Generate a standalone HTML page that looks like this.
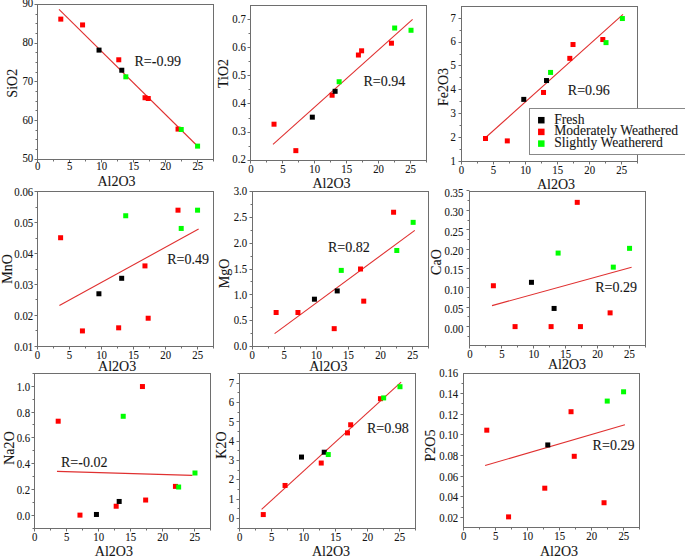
<!DOCTYPE html>
<html><head><meta charset="utf-8"><style>
html,body{margin:0;padding:0;background:#fff;}
body{width:685px;height:556px;overflow:hidden;}
svg{display:block;}
text{font-family:"Liberation Serif",serif;fill:#161616;stroke:#161616;stroke-width:0.1px;}
.t{font-size:12px;}
.a{font-size:14.8px;}
.r{font-size:14.5px;}
.l{font-size:14.2px;}
</style></head><body>
<svg width="685" height="556" viewBox="0 0 685 556">
<rect width="685" height="556" fill="#fff"/>
<rect x="37.5" y="4.5" width="176.0" height="155.0" fill="none" stroke="#6e6e6e" stroke-width="1"/>
<path d="M37.5 159.5v3 M53.5 159.5v2 M69.5 159.5v3 M85.5 159.5v2 M101.5 159.5v3 M117.5 159.5v2 M133.5 159.5v3 M149.5 159.5v2 M165.5 159.5v3 M181.5 159.5v2 M197.5 159.5v3 M213.5 159.5v2 M37.5 159.5h-3 M37.5 149.5h-2 M37.5 139.5h-2 M37.5 130.5h-2 M37.5 120.5h-3 M37.5 110.5h-2 M37.5 101.5h-2 M37.5 91.5h-2 M37.5 81.5h-3 M37.5 72.5h-2 M37.5 62.5h-2 M37.5 52.5h-2 M37.5 43.5h-3 M37.5 33.5h-2 M37.5 23.5h-2 M37.5 14.5h-2 M37.5 4.5h-3" stroke="#6e6e6e" stroke-width="1" fill="none"/>
<text transform="translate(37.60 169.60) scale(0.9 1)" class="t" text-anchor="middle">0</text>
<text transform="translate(69.64 169.60) scale(0.9 1)" class="t" text-anchor="middle">5</text>
<text transform="translate(101.67 169.60) scale(0.9 1)" class="t" text-anchor="middle">10</text>
<text transform="translate(133.71 169.60) scale(0.9 1)" class="t" text-anchor="middle">15</text>
<text transform="translate(165.75 169.60) scale(0.9 1)" class="t" text-anchor="middle">20</text>
<text transform="translate(197.78 169.60) scale(0.9 1)" class="t" text-anchor="middle">25</text>
<text transform="translate(33.20 162.30) scale(0.9 1)" class="t" text-anchor="end">50</text>
<text transform="translate(33.20 123.58) scale(0.9 1)" class="t" text-anchor="end">60</text>
<text transform="translate(33.20 84.85) scale(0.9 1)" class="t" text-anchor="end">70</text>
<text transform="translate(33.20 46.12) scale(0.9 1)" class="t" text-anchor="end">80</text>
<text transform="translate(33.20 7.40) scale(0.9 1)" class="t" text-anchor="end">90</text>
<line x1="59.00" y1="9.40" x2="197.40" y2="146.00" stroke="#e03030" stroke-width="1.1"/>
<rect x="58.29" y="16.62" width="5.0" height="5.0" fill="#ff0000"/>
<rect x="80.07" y="22.42" width="5.0" height="5.0" fill="#ff0000"/>
<rect x="116.27" y="57.28" width="5.0" height="5.0" fill="#ff0000"/>
<rect x="142.54" y="95.23" width="5.0" height="5.0" fill="#ff0000"/>
<rect x="145.75" y="96.00" width="5.0" height="5.0" fill="#ff0000"/>
<rect x="175.54" y="126.59" width="5.0" height="5.0" fill="#ff0000"/>
<rect x="96.54" y="47.60" width="5.0" height="5.0" fill="#000000"/>
<rect x="119.28" y="67.73" width="5.0" height="5.0" fill="#000000"/>
<rect x="123.32" y="74.32" width="5.0" height="5.0" fill="#00ff00"/>
<rect x="178.74" y="126.98" width="5.0" height="5.0" fill="#00ff00"/>
<rect x="195.08" y="143.63" width="5.0" height="5.0" fill="#00ff00"/>
<text transform="translate(134.50 66.00) scale(0.97 1)" class="r">R=-0.99</text>
<text transform="translate(17.00 83.20) rotate(-90) scale(0.95 1)" class="a" text-anchor="middle">SiO2</text>
<text transform="translate(116.50 186.20) scale(0.95 1)" class="a" text-anchor="middle">Al2O3</text>
<rect x="250.5" y="5.5" width="176.0" height="155.0" fill="none" stroke="#6e6e6e" stroke-width="1"/>
<path d="M250.5 160.5v3 M266.5 160.5v2 M282.5 160.5v3 M298.5 160.5v2 M314.5 160.5v3 M330.5 160.5v2 M346.5 160.5v3 M362.5 160.5v2 M378.5 160.5v3 M394.5 160.5v2 M410.5 160.5v3 M426.5 160.5v2 M250.5 160.5h-3 M250.5 146.5h-2 M250.5 132.5h-3 M250.5 118.5h-2 M250.5 103.5h-3 M250.5 89.5h-2 M250.5 75.5h-3 M250.5 61.5h-2 M250.5 47.5h-3 M250.5 33.5h-2 M250.5 19.5h-3" stroke="#6e6e6e" stroke-width="1" fill="none"/>
<text transform="translate(250.90 173.00) scale(0.9 1)" class="t" text-anchor="middle">0</text>
<text transform="translate(282.83 173.00) scale(0.9 1)" class="t" text-anchor="middle">5</text>
<text transform="translate(314.75 173.00) scale(0.9 1)" class="t" text-anchor="middle">10</text>
<text transform="translate(346.68 173.00) scale(0.9 1)" class="t" text-anchor="middle">15</text>
<text transform="translate(378.61 173.00) scale(0.9 1)" class="t" text-anchor="middle">20</text>
<text transform="translate(410.54 173.00) scale(0.9 1)" class="t" text-anchor="middle">25</text>
<text transform="translate(245.80 163.40) scale(0.9 1)" class="t" text-anchor="end">0.2</text>
<text transform="translate(245.80 135.28) scale(0.9 1)" class="t" text-anchor="end">0.3</text>
<text transform="translate(245.80 107.15) scale(0.9 1)" class="t" text-anchor="end">0.4</text>
<text transform="translate(245.80 79.03) scale(0.9 1)" class="t" text-anchor="end">0.5</text>
<text transform="translate(245.80 50.90) scale(0.9 1)" class="t" text-anchor="end">0.6</text>
<text transform="translate(245.80 22.78) scale(0.9 1)" class="t" text-anchor="end">0.7</text>
<line x1="273.00" y1="144.40" x2="412.60" y2="19.40" stroke="#e03030" stroke-width="1.1"/>
<rect x="271.52" y="121.70" width="5.0" height="5.0" fill="#ff0000"/>
<rect x="293.34" y="148.14" width="5.0" height="5.0" fill="#ff0000"/>
<rect x="329.60" y="92.73" width="5.0" height="5.0" fill="#ff0000"/>
<rect x="355.91" y="52.52" width="5.0" height="5.0" fill="#ff0000"/>
<rect x="359.11" y="48.30" width="5.0" height="5.0" fill="#ff0000"/>
<rect x="388.95" y="40.70" width="5.0" height="5.0" fill="#ff0000"/>
<rect x="309.83" y="114.67" width="5.0" height="5.0" fill="#000000"/>
<rect x="332.61" y="88.80" width="5.0" height="5.0" fill="#000000"/>
<rect x="336.65" y="79.23" width="5.0" height="5.0" fill="#00ff00"/>
<rect x="392.16" y="25.52" width="5.0" height="5.0" fill="#00ff00"/>
<rect x="408.52" y="27.77" width="5.0" height="5.0" fill="#00ff00"/>
<text transform="translate(363.50 85.50) scale(0.97 1)" class="r">R=0.94</text>
<text transform="translate(228.00 73.50) rotate(-90) scale(0.95 1)" class="a" text-anchor="middle">TiO2</text>
<text transform="translate(331.50 187.50) scale(0.95 1)" class="a" text-anchor="middle">Al2O3</text>
<rect x="461.5" y="6.5" width="176.0" height="155.0" fill="none" stroke="#6e6e6e" stroke-width="1"/>
<path d="M461.5 161.5v3 M477.5 161.5v2 M493.5 161.5v3 M509.5 161.5v2 M525.5 161.5v3 M541.5 161.5v2 M557.5 161.5v3 M573.5 161.5v2 M589.5 161.5v3 M605.5 161.5v2 M621.5 161.5v3 M637.5 161.5v2 M461.5 161.5h-3 M461.5 149.5h-2 M461.5 137.5h-3 M461.5 125.5h-2 M461.5 113.5h-3 M461.5 101.5h-2 M461.5 89.5h-3 M461.5 77.5h-2 M461.5 65.5h-3 M461.5 54.5h-2 M461.5 42.5h-3 M461.5 30.5h-2 M461.5 18.5h-3" stroke="#6e6e6e" stroke-width="1" fill="none"/>
<text transform="translate(461.50 173.70) scale(0.9 1)" class="t" text-anchor="middle">0</text>
<text transform="translate(493.55 173.70) scale(0.9 1)" class="t" text-anchor="middle">5</text>
<text transform="translate(525.61 173.70) scale(0.9 1)" class="t" text-anchor="middle">10</text>
<text transform="translate(557.66 173.70) scale(0.9 1)" class="t" text-anchor="middle">15</text>
<text transform="translate(589.72 173.70) scale(0.9 1)" class="t" text-anchor="middle">20</text>
<text transform="translate(621.77 173.70) scale(0.9 1)" class="t" text-anchor="middle">25</text>
<text transform="translate(455.80 164.70) scale(0.9 1)" class="t" text-anchor="end">1</text>
<text transform="translate(455.80 140.85) scale(0.9 1)" class="t" text-anchor="end">2</text>
<text transform="translate(455.80 117.00) scale(0.9 1)" class="t" text-anchor="end">3</text>
<text transform="translate(455.80 93.14) scale(0.9 1)" class="t" text-anchor="end">4</text>
<text transform="translate(455.80 69.29) scale(0.9 1)" class="t" text-anchor="end">5</text>
<text transform="translate(455.80 45.44) scale(0.9 1)" class="t" text-anchor="end">6</text>
<text transform="translate(455.80 21.59) scale(0.9 1)" class="t" text-anchor="end">7</text>
<line x1="484.00" y1="139.00" x2="623.00" y2="14.40" stroke="#e03030" stroke-width="1.1"/>
<rect x="483.00" y="136.00" width="5.0" height="5.0" fill="#ff0000"/>
<rect x="504.80" y="138.39" width="5.0" height="5.0" fill="#ff0000"/>
<rect x="541.02" y="89.97" width="5.0" height="5.0" fill="#ff0000"/>
<rect x="567.30" y="55.86" width="5.0" height="5.0" fill="#ff0000"/>
<rect x="570.51" y="42.02" width="5.0" height="5.0" fill="#ff0000"/>
<rect x="600.32" y="37.02" width="5.0" height="5.0" fill="#ff0000"/>
<rect x="521.27" y="96.88" width="5.0" height="5.0" fill="#000000"/>
<rect x="544.03" y="78.04" width="5.0" height="5.0" fill="#000000"/>
<rect x="548.07" y="69.93" width="5.0" height="5.0" fill="#00ff00"/>
<rect x="603.52" y="40.12" width="5.0" height="5.0" fill="#00ff00"/>
<rect x="619.87" y="16.03" width="5.0" height="5.0" fill="#00ff00"/>
<text transform="translate(567.80 95.00) scale(0.97 1)" class="r">R=0.96</text>
<text transform="translate(447.50 87.00) rotate(-90) scale(0.95 1)" class="a" text-anchor="middle">Fe2O3</text>
<text transform="translate(556.00 188.50) scale(0.95 1)" class="a" text-anchor="middle">Al2O3</text>
<rect x="37.5" y="191.5" width="176.0" height="155.0" fill="none" stroke="#6e6e6e" stroke-width="1"/>
<path d="M37.5 346.5v3 M53.5 346.5v2 M69.5 346.5v3 M85.5 346.5v2 M101.5 346.5v3 M117.5 346.5v2 M133.5 346.5v3 M149.5 346.5v2 M165.5 346.5v3 M181.5 346.5v2 M197.5 346.5v3 M213.5 346.5v2 M37.5 346.5h-3 M37.5 330.5h-2 M37.5 315.5h-3 M37.5 299.5h-2 M37.5 284.5h-3 M37.5 269.5h-2 M37.5 253.5h-3 M37.5 238.5h-2 M37.5 222.5h-3 M37.5 207.5h-2 M37.5 191.5h-3" stroke="#6e6e6e" stroke-width="1" fill="none"/>
<text transform="translate(37.40 358.80) scale(0.9 1)" class="t" text-anchor="middle">0</text>
<text transform="translate(69.47 358.80) scale(0.9 1)" class="t" text-anchor="middle">5</text>
<text transform="translate(101.55 358.80) scale(0.9 1)" class="t" text-anchor="middle">10</text>
<text transform="translate(133.62 358.80) scale(0.9 1)" class="t" text-anchor="middle">15</text>
<text transform="translate(165.69 358.80) scale(0.9 1)" class="t" text-anchor="middle">20</text>
<text transform="translate(197.76 358.80) scale(0.9 1)" class="t" text-anchor="middle">25</text>
<text transform="translate(33.20 350.50) scale(0.9 1)" class="t" text-anchor="end">0.01</text>
<text transform="translate(33.20 319.54) scale(0.9 1)" class="t" text-anchor="end">0.02</text>
<text transform="translate(33.20 288.58) scale(0.9 1)" class="t" text-anchor="end">0.03</text>
<text transform="translate(33.20 257.62) scale(0.9 1)" class="t" text-anchor="end">0.04</text>
<text transform="translate(33.20 226.66) scale(0.9 1)" class="t" text-anchor="end">0.05</text>
<text transform="translate(33.20 195.70) scale(0.9 1)" class="t" text-anchor="end">0.06</text>
<line x1="59.40" y1="305.60" x2="198.60" y2="229.00" stroke="#e03030" stroke-width="1.1"/>
<rect x="58.11" y="235.23" width="5.0" height="5.0" fill="#ff0000"/>
<rect x="79.92" y="328.42" width="5.0" height="5.0" fill="#ff0000"/>
<rect x="116.16" y="325.32" width="5.0" height="5.0" fill="#ff0000"/>
<rect x="142.46" y="263.40" width="5.0" height="5.0" fill="#ff0000"/>
<rect x="145.67" y="315.73" width="5.0" height="5.0" fill="#ff0000"/>
<rect x="175.50" y="207.68" width="5.0" height="5.0" fill="#ff0000"/>
<rect x="96.41" y="291.27" width="5.0" height="5.0" fill="#000000"/>
<rect x="119.18" y="275.79" width="5.0" height="5.0" fill="#000000"/>
<rect x="123.22" y="213.25" width="5.0" height="5.0" fill="#00ff00"/>
<rect x="178.71" y="225.94" width="5.0" height="5.0" fill="#00ff00"/>
<rect x="195.06" y="207.68" width="5.0" height="5.0" fill="#00ff00"/>
<text transform="translate(167.20 263.80) scale(0.97 1)" class="r">R=0.49</text>
<text transform="translate(12.00 269.00) rotate(-90) scale(0.95 1)" class="a" text-anchor="middle">MnO</text>
<text transform="translate(117.10 370.60) scale(0.95 1)" class="a" text-anchor="middle">Al2O3</text>
<rect x="252.5" y="191.5" width="176.0" height="155.0" fill="none" stroke="#6e6e6e" stroke-width="1"/>
<path d="M252.5 346.5v3 M268.5 346.5v2 M284.5 346.5v3 M300.5 346.5v2 M316.5 346.5v3 M332.5 346.5v2 M348.5 346.5v3 M364.5 346.5v2 M380.5 346.5v3 M396.5 346.5v2 M412.5 346.5v3 M428.5 346.5v2 M252.5 346.5h-3 M252.5 333.5h-2 M252.5 320.5h-3 M252.5 307.5h-2 M252.5 294.5h-3 M252.5 281.5h-2 M252.5 269.5h-3 M252.5 256.5h-2 M252.5 243.5h-3 M252.5 230.5h-2 M252.5 217.5h-3 M252.5 204.5h-2 M252.5 191.5h-3" stroke="#6e6e6e" stroke-width="1" fill="none"/>
<text transform="translate(252.20 358.70) scale(0.9 1)" class="t" text-anchor="middle">0</text>
<text transform="translate(284.29 358.70) scale(0.9 1)" class="t" text-anchor="middle">5</text>
<text transform="translate(316.38 358.70) scale(0.9 1)" class="t" text-anchor="middle">10</text>
<text transform="translate(348.47 358.70) scale(0.9 1)" class="t" text-anchor="middle">15</text>
<text transform="translate(380.56 358.70) scale(0.9 1)" class="t" text-anchor="middle">20</text>
<text transform="translate(412.65 358.70) scale(0.9 1)" class="t" text-anchor="middle">25</text>
<text transform="translate(247.20 350.20) scale(0.9 1)" class="t" text-anchor="end">0.0</text>
<text transform="translate(247.20 324.40) scale(0.9 1)" class="t" text-anchor="end">0.5</text>
<text transform="translate(247.20 298.60) scale(0.9 1)" class="t" text-anchor="end">1.0</text>
<text transform="translate(247.20 272.80) scale(0.9 1)" class="t" text-anchor="end">1.5</text>
<text transform="translate(247.20 247.00) scale(0.9 1)" class="t" text-anchor="end">2.0</text>
<text transform="translate(247.20 221.20) scale(0.9 1)" class="t" text-anchor="end">2.5</text>
<text transform="translate(247.20 195.40) scale(0.9 1)" class="t" text-anchor="end">3.0</text>
<line x1="274.60" y1="333.60" x2="414.80" y2="230.40" stroke="#e03030" stroke-width="1.1"/>
<rect x="273.63" y="310.00" width="5.0" height="5.0" fill="#ff0000"/>
<rect x="295.45" y="310.00" width="5.0" height="5.0" fill="#ff0000"/>
<rect x="331.71" y="326.15" width="5.0" height="5.0" fill="#ff0000"/>
<rect x="358.03" y="266.50" width="5.0" height="5.0" fill="#ff0000"/>
<rect x="361.23" y="298.65" width="5.0" height="5.0" fill="#ff0000"/>
<rect x="391.08" y="209.74" width="5.0" height="5.0" fill="#ff0000"/>
<rect x="311.94" y="296.69" width="5.0" height="5.0" fill="#000000"/>
<rect x="334.73" y="288.43" width="5.0" height="5.0" fill="#000000"/>
<rect x="338.77" y="267.89" width="5.0" height="5.0" fill="#00ff00"/>
<rect x="394.29" y="247.98" width="5.0" height="5.0" fill="#00ff00"/>
<rect x="410.65" y="219.85" width="5.0" height="5.0" fill="#00ff00"/>
<text transform="translate(328.00 252.00) scale(0.97 1)" class="r">R=0.82</text>
<text transform="translate(229.00 273.50) rotate(-90) scale(0.95 1)" class="a" text-anchor="middle">MgO</text>
<text transform="translate(328.30 370.80) scale(0.95 1)" class="a" text-anchor="middle">Al2O3</text>
<rect x="469.5" y="191.5" width="176.0" height="154.0" fill="none" stroke="#6e6e6e" stroke-width="1"/>
<path d="M469.5 345.5v3 M485.5 345.5v2 M501.5 345.5v3 M517.5 345.5v2 M533.5 345.5v3 M549.5 345.5v2 M565.5 345.5v3 M581.5 345.5v2 M597.5 345.5v3 M613.5 345.5v2 M629.5 345.5v3 M645.5 345.5v2 M469.5 336.5h-2 M469.5 326.5h-3 M469.5 316.5h-2 M469.5 307.5h-3 M469.5 297.5h-2 M469.5 287.5h-3 M469.5 278.5h-2 M469.5 268.5h-3 M469.5 258.5h-2 M469.5 249.5h-3 M469.5 239.5h-2 M469.5 229.5h-3 M469.5 220.5h-2 M469.5 210.5h-3 M469.5 200.5h-2 M469.5 190.5h-3" stroke="#6e6e6e" stroke-width="1" fill="none"/>
<text transform="translate(470.00 358.30) scale(0.9 1)" class="t" text-anchor="middle">0</text>
<text transform="translate(501.89 358.30) scale(0.9 1)" class="t" text-anchor="middle">5</text>
<text transform="translate(533.78 358.30) scale(0.9 1)" class="t" text-anchor="middle">10</text>
<text transform="translate(565.67 358.30) scale(0.9 1)" class="t" text-anchor="middle">15</text>
<text transform="translate(597.56 358.30) scale(0.9 1)" class="t" text-anchor="middle">20</text>
<text transform="translate(629.45 358.30) scale(0.9 1)" class="t" text-anchor="middle">25</text>
<text transform="translate(463.40 332.51) scale(0.9 1)" class="t" text-anchor="end">0.00</text>
<text transform="translate(463.40 313.14) scale(0.9 1)" class="t" text-anchor="end">0.05</text>
<text transform="translate(463.40 293.77) scale(0.9 1)" class="t" text-anchor="end">0.10</text>
<text transform="translate(463.40 274.39) scale(0.9 1)" class="t" text-anchor="end">0.15</text>
<text transform="translate(463.40 255.02) scale(0.9 1)" class="t" text-anchor="end">0.20</text>
<text transform="translate(463.40 235.65) scale(0.9 1)" class="t" text-anchor="end">0.25</text>
<text transform="translate(463.40 216.27) scale(0.9 1)" class="t" text-anchor="end">0.30</text>
<text transform="translate(463.40 196.90) scale(0.9 1)" class="t" text-anchor="end">0.35</text>
<line x1="492.00" y1="305.60" x2="631.60" y2="267.20" stroke="#e03030" stroke-width="1.1"/>
<rect x="490.88" y="283.24" width="5.0" height="5.0" fill="#ff0000"/>
<rect x="512.57" y="324.11" width="5.0" height="5.0" fill="#ff0000"/>
<rect x="548.60" y="324.11" width="5.0" height="5.0" fill="#ff0000"/>
<rect x="574.75" y="199.85" width="5.0" height="5.0" fill="#ff0000"/>
<rect x="577.94" y="324.11" width="5.0" height="5.0" fill="#ff0000"/>
<rect x="607.60" y="310.36" width="5.0" height="5.0" fill="#ff0000"/>
<rect x="528.96" y="279.83" width="5.0" height="5.0" fill="#000000"/>
<rect x="551.60" y="305.94" width="5.0" height="5.0" fill="#000000"/>
<rect x="555.62" y="250.57" width="5.0" height="5.0" fill="#00ff00"/>
<rect x="610.79" y="264.64" width="5.0" height="5.0" fill="#00ff00"/>
<rect x="627.05" y="245.85" width="5.0" height="5.0" fill="#00ff00"/>
<text transform="translate(595.20 292.00) scale(0.97 1)" class="r">R=0.29</text>
<text transform="translate(441.30 262.00) rotate(-90) scale(0.95 1)" class="a" text-anchor="middle">CaO</text>
<text transform="translate(567.00 368.90) scale(0.95 1)" class="a" text-anchor="middle">Al2O3</text>
<rect x="34.5" y="373.5" width="176.0" height="155.0" fill="none" stroke="#6e6e6e" stroke-width="1"/>
<path d="M34.5 528.5v3 M50.5 528.5v2 M66.5 528.5v3 M82.5 528.5v2 M98.5 528.5v3 M114.5 528.5v2 M130.5 528.5v3 M146.5 528.5v2 M162.5 528.5v3 M178.5 528.5v2 M194.5 528.5v3 M210.5 528.5v2 M34.5 528.5h-2 M34.5 515.5h-3 M34.5 502.5h-2 M34.5 489.5h-3 M34.5 476.5h-2 M34.5 463.5h-3 M34.5 450.5h-2 M34.5 437.5h-3 M34.5 424.5h-2 M34.5 412.5h-3 M34.5 399.5h-2 M34.5 386.5h-3 M34.5 373.5h-2" stroke="#6e6e6e" stroke-width="1" fill="none"/>
<text transform="translate(34.60 541.10) scale(0.9 1)" class="t" text-anchor="middle">0</text>
<text transform="translate(66.64 541.10) scale(0.9 1)" class="t" text-anchor="middle">5</text>
<text transform="translate(98.67 541.10) scale(0.9 1)" class="t" text-anchor="middle">10</text>
<text transform="translate(130.71 541.10) scale(0.9 1)" class="t" text-anchor="middle">15</text>
<text transform="translate(162.75 541.10) scale(0.9 1)" class="t" text-anchor="middle">20</text>
<text transform="translate(194.78 541.10) scale(0.9 1)" class="t" text-anchor="middle">25</text>
<text transform="translate(30.20 519.72) scale(0.9 1)" class="t" text-anchor="end">0.0</text>
<text transform="translate(30.20 493.95) scale(0.9 1)" class="t" text-anchor="end">0.2</text>
<text transform="translate(30.20 468.18) scale(0.9 1)" class="t" text-anchor="end">0.4</text>
<text transform="translate(30.20 442.42) scale(0.9 1)" class="t" text-anchor="end">0.6</text>
<text transform="translate(30.20 416.65) scale(0.9 1)" class="t" text-anchor="end">0.8</text>
<text transform="translate(30.20 390.88) scale(0.9 1)" class="t" text-anchor="end">1.0</text>
<line x1="57.00" y1="471.40" x2="192.40" y2="475.40" stroke="#e03030" stroke-width="1.1"/>
<rect x="55.69" y="418.70" width="5.0" height="5.0" fill="#ff0000"/>
<rect x="77.47" y="512.62" width="5.0" height="5.0" fill="#ff0000"/>
<rect x="113.67" y="503.73" width="5.0" height="5.0" fill="#ff0000"/>
<rect x="139.94" y="384.04" width="5.0" height="5.0" fill="#ff0000"/>
<rect x="143.15" y="497.54" width="5.0" height="5.0" fill="#ff0000"/>
<rect x="172.94" y="483.89" width="5.0" height="5.0" fill="#ff0000"/>
<rect x="93.94" y="511.97" width="5.0" height="5.0" fill="#000000"/>
<rect x="116.68" y="498.96" width="5.0" height="5.0" fill="#000000"/>
<rect x="120.72" y="413.80" width="5.0" height="5.0" fill="#00ff00"/>
<rect x="176.14" y="484.53" width="5.0" height="5.0" fill="#00ff00"/>
<rect x="192.48" y="470.49" width="5.0" height="5.0" fill="#00ff00"/>
<text transform="translate(61.00 466.50) scale(0.97 1)" class="r">R=-0.02</text>
<text transform="translate(14.40 448.00) rotate(-90) scale(0.95 1)" class="a" text-anchor="middle">Na2O</text>
<text transform="translate(113.90 555.50) scale(0.95 1)" class="a" text-anchor="middle">Al2O3</text>
<rect x="239.5" y="373.5" width="176.0" height="155.0" fill="none" stroke="#6e6e6e" stroke-width="1"/>
<path d="M239.5 528.5v3 M255.5 528.5v2 M271.5 528.5v3 M287.5 528.5v2 M303.5 528.5v3 M319.5 528.5v2 M335.5 528.5v3 M351.5 528.5v2 M367.5 528.5v3 M383.5 528.5v2 M399.5 528.5v3 M415.5 528.5v2 M239.5 528.5h-2 M239.5 518.5h-3 M239.5 508.5h-2 M239.5 499.5h-3 M239.5 489.5h-2 M239.5 479.5h-3 M239.5 470.5h-2 M239.5 460.5h-3 M239.5 450.5h-2 M239.5 441.5h-3 M239.5 431.5h-2 M239.5 421.5h-3 M239.5 412.5h-2 M239.5 402.5h-3 M239.5 392.5h-2 M239.5 383.5h-3 M239.5 373.5h-2" stroke="#6e6e6e" stroke-width="1" fill="none"/>
<text transform="translate(239.60 541.10) scale(0.9 1)" class="t" text-anchor="middle">0</text>
<text transform="translate(271.62 541.10) scale(0.9 1)" class="t" text-anchor="middle">5</text>
<text transform="translate(303.64 541.10) scale(0.9 1)" class="t" text-anchor="middle">10</text>
<text transform="translate(335.65 541.10) scale(0.9 1)" class="t" text-anchor="middle">15</text>
<text transform="translate(367.67 541.10) scale(0.9 1)" class="t" text-anchor="middle">20</text>
<text transform="translate(399.69 541.10) scale(0.9 1)" class="t" text-anchor="middle">25</text>
<text transform="translate(234.20 522.14) scale(0.9 1)" class="t" text-anchor="end">0</text>
<text transform="translate(234.20 502.81) scale(0.9 1)" class="t" text-anchor="end">1</text>
<text transform="translate(234.20 483.49) scale(0.9 1)" class="t" text-anchor="end">2</text>
<text transform="translate(234.20 464.16) scale(0.9 1)" class="t" text-anchor="end">3</text>
<text transform="translate(234.20 444.84) scale(0.9 1)" class="t" text-anchor="end">4</text>
<text transform="translate(234.20 425.51) scale(0.9 1)" class="t" text-anchor="end">5</text>
<text transform="translate(234.20 406.19) scale(0.9 1)" class="t" text-anchor="end">6</text>
<text transform="translate(234.20 386.86) scale(0.9 1)" class="t" text-anchor="end">7</text>
<line x1="261.60" y1="509.40" x2="401.10" y2="382.10" stroke="#e03030" stroke-width="1.1"/>
<rect x="260.77" y="512.06" width="5.0" height="5.0" fill="#ff0000"/>
<rect x="282.55" y="482.96" width="5.0" height="5.0" fill="#ff0000"/>
<rect x="318.73" y="460.54" width="5.0" height="5.0" fill="#ff0000"/>
<rect x="344.98" y="430.39" width="5.0" height="5.0" fill="#ff0000"/>
<rect x="348.18" y="422.28" width="5.0" height="5.0" fill="#ff0000"/>
<rect x="377.96" y="396.19" width="5.0" height="5.0" fill="#ff0000"/>
<rect x="299.00" y="454.55" width="5.0" height="5.0" fill="#000000"/>
<rect x="321.74" y="449.72" width="5.0" height="5.0" fill="#000000"/>
<rect x="325.77" y="452.04" width="5.0" height="5.0" fill="#00ff00"/>
<rect x="381.16" y="395.42" width="5.0" height="5.0" fill="#00ff00"/>
<rect x="397.49" y="384.21" width="5.0" height="5.0" fill="#00ff00"/>
<text transform="translate(367.00 432.50) scale(0.97 1)" class="r">R=0.98</text>
<text transform="translate(226.00 445.00) rotate(-90) scale(0.95 1)" class="a" text-anchor="middle">K2O</text>
<text transform="translate(331.00 555.50) scale(0.95 1)" class="a" text-anchor="middle">Al2O3</text>
<rect x="463.5" y="373.5" width="176.0" height="154.0" fill="none" stroke="#6e6e6e" stroke-width="1"/>
<path d="M463.5 527.5v3 M479.5 527.5v2 M495.5 527.5v3 M511.5 527.5v2 M527.5 527.5v3 M543.5 527.5v2 M559.5 527.5v3 M575.5 527.5v2 M591.5 527.5v3 M607.5 527.5v2 M623.5 527.5v3 M639.5 527.5v2 M463.5 517.5h-3 M463.5 507.5h-2 M463.5 496.5h-3 M463.5 486.5h-2 M463.5 476.5h-3 M463.5 465.5h-2 M463.5 455.5h-3 M463.5 445.5h-2 M463.5 434.5h-3 M463.5 424.5h-2 M463.5 414.5h-3 M463.5 403.5h-2 M463.5 393.5h-3 M463.5 383.5h-2" stroke="#6e6e6e" stroke-width="1" fill="none"/>
<text transform="translate(463.60 539.90) scale(0.9 1)" class="t" text-anchor="middle">0</text>
<text transform="translate(495.64 539.90) scale(0.9 1)" class="t" text-anchor="middle">5</text>
<text transform="translate(527.67 539.90) scale(0.9 1)" class="t" text-anchor="middle">10</text>
<text transform="translate(559.71 539.90) scale(0.9 1)" class="t" text-anchor="middle">15</text>
<text transform="translate(591.75 539.90) scale(0.9 1)" class="t" text-anchor="middle">20</text>
<text transform="translate(623.78 539.90) scale(0.9 1)" class="t" text-anchor="middle">25</text>
<text transform="translate(458.20 521.80) scale(0.9 1)" class="t" text-anchor="end">0.02</text>
<text transform="translate(458.20 501.16) scale(0.9 1)" class="t" text-anchor="end">0.04</text>
<text transform="translate(458.20 480.51) scale(0.9 1)" class="t" text-anchor="end">0.06</text>
<text transform="translate(458.20 459.87) scale(0.9 1)" class="t" text-anchor="end">0.08</text>
<text transform="translate(458.20 439.23) scale(0.9 1)" class="t" text-anchor="end">0.10</text>
<text transform="translate(458.20 418.58) scale(0.9 1)" class="t" text-anchor="end">0.12</text>
<text transform="translate(458.20 397.94) scale(0.9 1)" class="t" text-anchor="end">0.14</text>
<text transform="translate(458.20 377.30) scale(0.9 1)" class="t" text-anchor="end">0.16</text>
<line x1="485.10" y1="465.50" x2="624.90" y2="424.80" stroke="#e03030" stroke-width="1.1"/>
<rect x="484.29" y="427.68" width="5.0" height="5.0" fill="#ff0000"/>
<rect x="506.07" y="514.38" width="5.0" height="5.0" fill="#ff0000"/>
<rect x="542.27" y="485.69" width="5.0" height="5.0" fill="#ff0000"/>
<rect x="568.54" y="409.21" width="5.0" height="5.0" fill="#ff0000"/>
<rect x="571.75" y="453.80" width="5.0" height="5.0" fill="#ff0000"/>
<rect x="601.54" y="500.24" width="5.0" height="5.0" fill="#ff0000"/>
<rect x="545.28" y="442.44" width="5.0" height="5.0" fill="#000000"/>
<rect x="604.74" y="398.58" width="5.0" height="5.0" fill="#00ff00"/>
<rect x="621.08" y="389.29" width="5.0" height="5.0" fill="#00ff00"/>
<text transform="translate(592.60 450.00) scale(0.97 1)" class="r">R=0.29</text>
<text transform="translate(435.00 445.50) rotate(-90) scale(0.95 1)" class="a" text-anchor="middle">P2O5</text>
<text transform="translate(559.00 555.50) scale(0.95 1)" class="a" text-anchor="middle">Al2O3</text>
<rect x="529.5" y="108.5" width="170" height="46" fill="#fff" stroke="#888" stroke-width="1"/>
<rect x="538.05" y="116.95" width="6.5" height="6.5" fill="#000000"/>
<text transform="translate(554.2 123.70) scale(0.96 1)" class="l">Fresh</text>
<rect x="538.05" y="128.65" width="6.5" height="6.5" fill="#ff0000"/>
<text transform="translate(554.2 135.10) scale(0.96 1)" class="l">Moderately Weathered</text>
<rect x="538.05" y="140.35" width="6.5" height="6.5" fill="#00ff00"/>
<text transform="translate(554.2 146.50) scale(0.96 1)" class="l">Slightly Weathererd</text>
</svg>
</body></html>
